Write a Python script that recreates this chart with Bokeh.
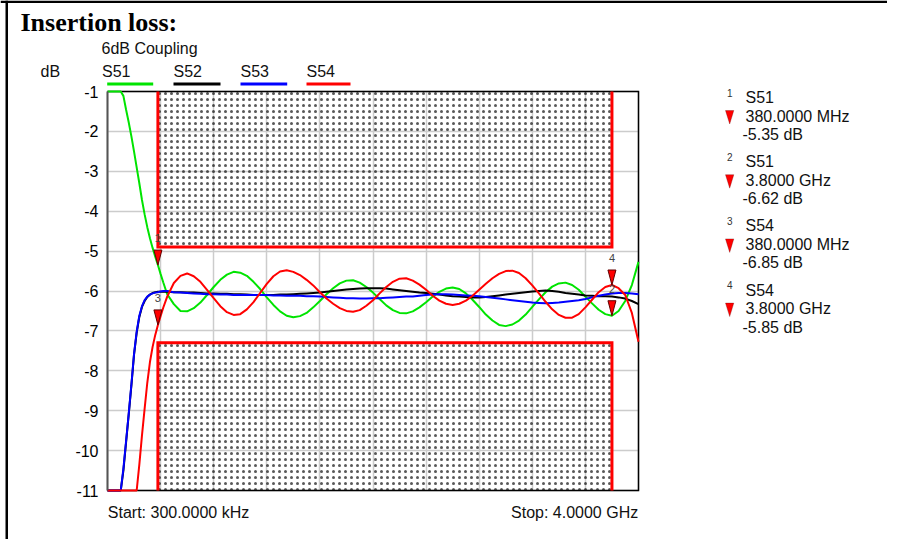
from bokeh.plotting import figure
from bokeh.models import Range1d, FixedTicker, Label, PolyAnnotation, LinearAxis, Grid
from bokeh.core.properties import value
from bokeh.embed import file_html
from bokeh.resources import INLINE

# ---------------- data ----------------
TITLE = "Insertion loss:"
SUBTITLE = "6dB Coupling"
Y_UNIT = "dB"
START_LABEL = "Start: 300.0000 kHz"
STOP_LABEL = "Stop: 4.0000 GHz"

X_START_MHZ = 0.3
X_STOP_MHZ = 4000.0
Y_TOP_DB = -1
Y_BOTTOM_DB = -11
Y_TICKS = [-1, -2, -3, -4, -5, -6, -7, -8, -9, -10, -11]
N_X_DIV = 10

FREQ_MHZ = [0.3, 50, 100, 120, 140, 160, 180, 200, 220, 240, 260, 280, 300,
            320, 340, 360, 380, 400, 420, 450] + list(range(500, 4001, 50))

S51 = [-1.0, -1.0, -1.0, -1.11, -1.45, -1.77, -2.12, -2.5, -2.9, -3.3, -3.72, -4.08, -4.4,
       -4.68, -4.92, -5.14, -5.35, -5.57, -5.78, -6.08,
       -6.33, -6.5, -6.51, -6.43, -6.29, -6.10, -5.90, -5.72, -5.59, -5.52,
       -5.54, -5.62, -5.77, -5.95, -6.16, -6.35, -6.51, -6.62, -6.66, -6.63,
       -6.55, -6.41, -6.25, -6.08, -5.93, -5.81, -5.74, -5.73, -5.79, -5.90,
       -6.04, -6.20, -6.36, -6.48, -6.55, -6.56, -6.51, -6.41, -6.28, -6.14,
       -6.02, -5.94, -5.91, -5.95, -6.06, -6.22, -6.40, -6.59, -6.74, -6.85,
       -6.88, -6.84, -6.74, -6.59, -6.40, -6.21, -6.03, -5.89, -5.81, -5.79,
       -5.85, -5.97, -6.14, -6.31, -6.47, -6.58, -6.62, -6.50, -6.25, -5.85,
       -5.27]

S52 = [-11, -11, -11, -10.5, -9.8, -9.1, -8.38, -7.6, -7.05, -6.65, -6.4, -6.25, -6.15,
       -6.09, -6.05, -6.03, -6.02, -6.02, -6.02, -6.02,
       -6.03, -6.03, -6.04, -6.04, -6.05, -6.06, -6.06, -6.07, -6.07, -6.08,
       -6.08, -6.09, -6.10, -6.10, -6.10, -6.10, -6.09, -6.09, -6.08, -6.07,
       -6.06, -6.05, -6.04, -6.02, -6.00, -5.98, -5.96, -5.95, -5.94, -5.93,
       -5.93, -5.93, -5.94, -5.96, -5.98, -6.00, -6.02, -6.04, -6.05, -6.07,
       -6.09, -6.11, -6.13, -6.14, -6.15, -6.16, -6.16, -6.15, -6.13, -6.11,
       -6.09, -6.07, -6.05, -6.03, -6.01, -6.00, -5.99, -6.00, -6.02, -6.05,
       -6.07, -6.09, -6.11, -6.12, -6.13, -6.13, -6.14, -6.16, -6.19, -6.25,
       -6.33]

S53 = [-11, -11, -11, -10.45, -9.77, -9.08, -8.35, -7.58, -7.02, -6.62, -6.38, -6.23, -6.14,
       -6.09, -6.06, -6.04, -6.03, -6.01, -6.00, -6.00,
       -6.03, -6.04, -6.05, -6.06, -6.07, -6.08, -6.08, -6.09, -6.09, -6.10,
       -6.10, -6.10, -6.10, -6.10, -6.10, -6.11, -6.11, -6.12, -6.12, -6.12,
       -6.13, -6.13, -6.14, -6.15, -6.16, -6.17, -6.18, -6.18, -6.19, -6.19,
       -6.18, -6.18, -6.17, -6.16, -6.15, -6.14, -6.14, -6.12, -6.10, -6.09,
       -6.08, -6.08, -6.09, -6.10, -6.11, -6.12, -6.13, -6.15, -6.17, -6.19,
       -6.21, -6.23, -6.25, -6.27, -6.29, -6.30, -6.31, -6.30, -6.29, -6.27,
       -6.25, -6.23, -6.20, -6.16, -6.12, -6.09, -6.06, -6.05, -6.05, -6.06,
       -6.08]

S54 = [-11, -11, -11, -11, -11, -11, -11, -11, -11, -10.35, -9.62, -8.95, -8.3,
       -7.78, -7.4, -7.1, -6.85, -6.63, -6.42, -6.14,
       -5.80, -5.62, -5.56, -5.63, -5.77, -5.97, -6.18, -6.38, -6.53, -6.60,
       -6.58, -6.46, -6.28, -6.05, -5.82, -5.63, -5.51, -5.48, -5.52, -5.60,
       -5.72, -5.86, -6.03, -6.19, -6.32, -6.43, -6.50, -6.52, -6.48, -6.37,
       -6.23, -6.06, -5.90, -5.77, -5.69, -5.68, -5.74, -5.84, -5.97, -6.12,
       -6.24, -6.32, -6.35, -6.32, -6.24, -6.12, -5.97, -5.82, -5.68, -5.57,
       -5.50, -5.49, -5.55, -5.68, -5.86, -6.06, -6.27, -6.46, -6.60, -6.67,
       -6.67, -6.58, -6.41, -6.22, -6.03, -5.90, -5.85, -5.93, -6.10, -6.55,
       -7.27]

TRACE_NAMES = ["S51", "S52", "S53", "S54"]
TRACE_VALUES = [S51, S52, S53, S54]
TRACE_COLORS = ["#00e400", "#000000", "#0000ff", "#ff0000"]

MASK_START_MHZ = 380
MASK_STOP_MHZ = 3800
MASK_UPPER_DB = -4.9
MASK_LOWER_DB = -7.3

MARKER_IDS = ["1", "2", "3", "4"]
MARKER_TRACES = ["S51", "S51", "S54", "S54"]
MARKER_FREQ_MHZ = [380, 3800, 380, 3800]
MARKER_DB = [-5.35, -6.62, -6.85, -5.85]

for vals in TRACE_VALUES:
    assert len(vals) == len(FREQ_MHZ), (len(vals), len(FREQ_MHZ))

# ---------------- layout ----------------
W, H = 887, 539                          # canvas size
PL, PR, PT, PB = 107, 638, 91, 490       # plot area inside the canvas (px)
FONT = "Liberation Sans"
LABEL_DY = -5.5                          # baseline correction for Label annotations

MHZ_PER_PX = (X_STOP_MHZ - X_START_MHZ) / (PR - PL)
DB_PER_PX = (Y_TOP_DB - Y_BOTTOM_DB) / (PB - PT)


def X(px):
    return X_START_MHZ + (px - PL) * MHZ_PER_PX


def Y(py):
    return Y_TOP_DB - (py - PT) * DB_PER_PX


p = figure(width=W, height=H, min_border=0, title=None,
           x_range=Range1d(X(0), X(W)),
           y_range=Range1d(Y(H), Y(0)),
           x_axis_location=None, y_axis_location=None,
           output_backend="svg", toolbar_location=None,
           background_fill_color="white", border_fill_color="white")
p.outline_line_color = None
p.grid.visible = False

# grid lines limited to the plot area
x_grid = [X_START_MHZ + k * (X_STOP_MHZ - X_START_MHZ) / N_X_DIV for k in range(N_X_DIV + 1)]
try:
    gx = Grid(dimension=0, ticker=FixedTicker(ticks=x_grid),
              bounds=(X_START_MHZ, X_STOP_MHZ), cross_bounds=(Y_BOTTOM_DB, Y_TOP_DB),
              grid_line_color="#cccccc", grid_line_width=1.5)
    gy = Grid(dimension=1, ticker=FixedTicker(ticks=Y_TICKS),
              bounds=(Y_BOTTOM_DB, Y_TOP_DB), cross_bounds=(X_START_MHZ, X_STOP_MHZ),
              grid_line_color="#cccccc", grid_line_width=1.5)
    p.add_layout(gx)
    p.add_layout(gy)
except Exception:
    p.segment(x0=x_grid, y0=Y_BOTTOM_DB, x1=x_grid, y1=Y_TOP_DB,
              line_color="#cccccc", line_width=1.5)
    p.segment(x0=X_START_MHZ, y0=Y_TICKS, x1=X_STOP_MHZ, y1=Y_TICKS,
              line_color="#cccccc", line_width=1.5)

# y axis drawn at the left edge of the plot area
yax = LinearAxis(fixed_location=X_START_MHZ, bounds=(Y_BOTTOM_DB, Y_TOP_DB),
                 ticker=FixedTicker(ticks=Y_TICKS))
yax.major_label_overrides = {t: str(t) for t in Y_TICKS}
yax.major_tick_out = 0
yax.major_tick_in = 0
yax.major_tick_line_color = None
yax.minor_tick_line_color = None
yax.axis_line_color = "#555555"
yax.axis_line_width = 2
yax.major_label_standoff = 9
yax.major_label_text_font = FONT
yax.major_label_text_font_size = "16px"
yax.major_label_text_color = "black"
p.add_layout(yax, "left")

# mask: dotted boxes + red limit lines
p.quad(left=[MASK_START_MHZ, MASK_START_MHZ], right=[MASK_STOP_MHZ, MASK_STOP_MHZ],
       bottom=[MASK_UPPER_DB, Y_BOTTOM_DB], top=[Y_TOP_DB, MASK_LOWER_DB],
       fill_alpha=0, line_color=None,
       hatch_pattern="dot", hatch_color="black", hatch_scale=6, hatch_weight=1,
       hatch_alpha=0.65)

# plot-area frame (top, right, bottom)
p.line([X_START_MHZ, X_STOP_MHZ, X_STOP_MHZ, X_START_MHZ],
       [Y_TOP_DB, Y_TOP_DB, Y_BOTTOM_DB, Y_BOTTOM_DB],
       line_color="black", line_width=1.5, line_join="miter")

p.line([MASK_START_MHZ, MASK_START_MHZ, MASK_STOP_MHZ, MASK_STOP_MHZ],
       [Y_TOP_DB, MASK_UPPER_DB, MASK_UPPER_DB, Y_TOP_DB],
       line_color="#ff0000", line_width=3, line_join="miter")
p.line([MASK_START_MHZ, MASK_START_MHZ, MASK_STOP_MHZ, MASK_STOP_MHZ],
       [Y_BOTTOM_DB, MASK_LOWER_DB, MASK_LOWER_DB, Y_BOTTOM_DB],
       line_color="#ff0000", line_width=3, line_join="miter")

# traces
for name, vals, col in zip(TRACE_NAMES, TRACE_VALUES, TRACE_COLORS):
    p.line(FREQ_MHZ, vals, line_color=col, line_width=2)

# markers on the chart
hw = 4 * MHZ_PER_PX
th = 15 * DB_PER_PX
p.patches(xs=[[f - hw, f + hw, f] for f in MARKER_FREQ_MHZ],
          ys=[[v + th, v + th, v] for v in MARKER_DB],
          fill_color="#ff0000", line_color="#600000", line_width=1)
p.text(x=MARKER_FREQ_MHZ, y=[v + 26.7 * DB_PER_PX for v in MARKER_DB], text=MARKER_IDS,
       text_font=value(FONT), text_font_size=value("11px"), text_color="#444444",
       text_align="center", text_baseline="alphabetic")


def add_label(text, px, py, size, font=FONT, style="normal", color="black", align="left"):
    p.add_layout(Label(x=X(px), y=Y(py + LABEL_DY), text=text, text_font=font,
                       text_font_size=f"{size}px", text_font_style=style,
                       text_color=color, text_align=align, text_baseline="alphabetic"))


def add_poly(pxs, pys, fill, line=None, lw=1):
    p.add_layout(PolyAnnotation(xs=[X(v) for v in pxs], ys=[Y(v) for v in pys],
                                fill_color=fill, fill_alpha=1,
                                line_color=line, line_width=lw))


# outer border (top and left)
add_poly([0, W, W, 0], [0, 0, 2.5, 2.5], "black")
add_poly([5, 7.5, 7.5, 5], [0, 0, H, H], "black")

add_label(TITLE, 20, 27, 26, font="Liberation Serif", style="bold")
add_label(SUBTITLE, 101, 53, 16, color="#111111")
add_label(Y_UNIT, 40, 76, 16, color="#111111")

legend_text_x = [101.5, 173, 240, 306]
legend_line_x = [(106.7, 152.7), (173, 220), (240, 286.7), (306, 350)]
for name, col, tx, (lx0, lx1) in zip(TRACE_NAMES, TRACE_COLORS, legend_text_x, legend_line_x):
    add_label(name, tx, 76, 16, color="#111111")
    add_poly([lx0, lx1, lx1, lx0], [82, 82, 85, 85], col)

add_label(START_LABEL, 107.3, 517, 16, color="#111111")
add_label(STOP_LABEL, 637.7, 517, 16, color="#111111", align="right")

# marker readout on the right
STEP = 64.2
for g, (mid, tr, f, v) in enumerate(zip(MARKER_IDS, MARKER_TRACES, MARKER_FREQ_MHZ, MARKER_DB)):
    base = g * STEP
    freq_txt = f"{f:.4f} MHz" if f < 1000 else f"{f / 1000:.4f} GHz"
    add_label(mid, 726.5, 97.5 + base, 10, color="#333333")
    add_label(tr, 745, 102.5 + base, 16, color="#111111")
    add_label(freq_txt, 745, 121 + base, 16, color="#111111")
    add_label(f"{v:.2f} dB", 742, 139.5 + base, 16, color="#111111")
    add_poly([725, 733.3, 729.2], [110 + base, 110 + base, 123.5 + base], "#ff0000", "#600000", 1)

open("out.html", "w").write(file_html(p, INLINE))
